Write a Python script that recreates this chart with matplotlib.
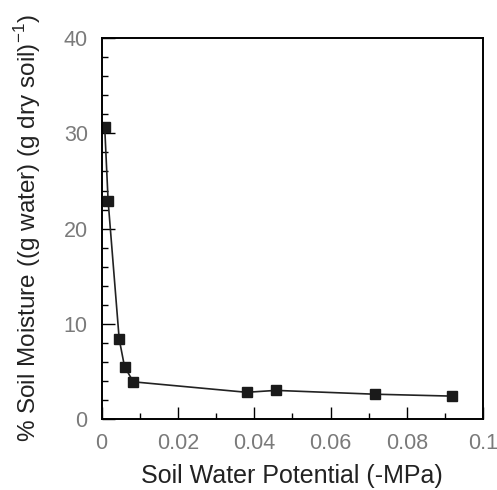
import matplotlib
matplotlib.use('Agg')
import matplotlib.pyplot as plt
from matplotlib.ticker import MultipleLocator

# Datos
potencial = [0.0008, 0.0017, 0.0046, 0.0060, 0.0083, 0.038, 0.0457, 0.0716, 0.0918]
humedad = [30.7, 22.9, 8.4, 5.5, 3.9, 2.8, 3.0, 2.6, 2.4]
xticks = [0, 0.02, 0.04, 0.06, 0.08, 0.1]
xticklabels = ['0', '0.02', '0.04', '0.06', '0.08', '0.1']
yticks = [0, 10, 20, 30, 40]

plt.rcParams['font.family'] = ['Liberation Sans', 'DejaVu Sans']
plt.rcParams['mathtext.fontset'] = 'custom'
plt.rcParams['mathtext.rm'] = 'Liberation Sans'

fig = plt.figure(figsize=(4.97, 4.90), dpi=100)
ax = fig.add_axes([0.2045, 0.145, 0.7675, 0.777])

ax.plot(potencial, humedad, color='#222222', lw=1.2, marker='s',
        markersize=6.5, markerfacecolor='#1a1a1a', markeredgecolor='#1a1a1a')

ax.set_xlim(0, 0.1)
ax.set_ylim(0, 40)
ax.set_xticks(xticks)
ax.set_xticklabels(xticklabels)
ax.set_yticks(yticks)
ax.xaxis.set_minor_locator(MultipleLocator(0.01))
ax.yaxis.set_minor_locator(MultipleLocator(2))

ax.tick_params(which='major', direction='in', length=9, width=1,
               labelsize=15.5, labelcolor='#7a7a7a', pad=10)
ax.tick_params(which='minor', direction='in', length=4, width=1)
for s in ax.spines.values():
    s.set_linewidth(1.4)

ax.set_xlabel('Soil Water Potential (-MPa)', fontsize=18, color='#222222', labelpad=7)
ax.set_ylabel('% Soil Moisture ((g water) (g dry soil)$^{\\mathrm{-1}}$)', fontsize=17.5,
              color='#222222', labelpad=15)

fig.savefig('out.png', dpi=100)
